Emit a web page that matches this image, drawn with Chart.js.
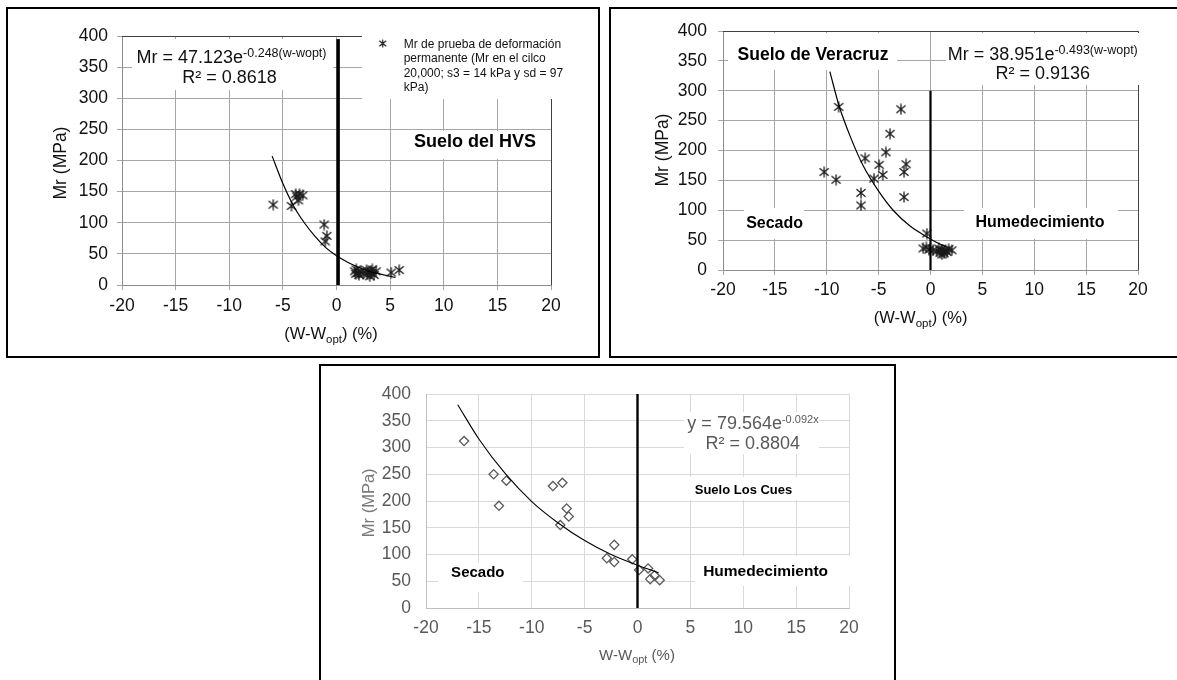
<!DOCTYPE html>
<html lang="es">
<head>
<meta charset="UTF-8">
<title>Mr vs (w-wopt)</title>
<script src="https://cdn.jsdelivr.net/npm/chart.js@4.4.1/dist/chart.umd.min.js"></script>
<style>
  html, body { margin: 0; padding: 0; background: #fff; }
  body { position: relative; width: 1177px; height: 680px; overflow: hidden; }
  .frame { position: absolute; border: 2px solid #000; box-sizing: border-box; }
  canvas { position: absolute; }
</style>
</head>
<body>
<div class="frame" style="left:6px;top:7px;width:594px;height:351px"></div>
<div class="frame" style="left:609px;top:7px;width:580px;height:351px"></div>
<div class="frame" style="left:319px;top:364px;width:577px;height:340px"></div>
<canvas id="c1"></canvas>
<canvas id="c2"></canvas>
<canvas id="c3"></canvas>
<script>
// Ejes (iguales en los tres graficos)
const xLimits = [-20, 20];
const xStep = 5;
const yLimits = [0, 400];
const yStep = 50;

// Suelo del HVS: puntos
const hvsX = [-5.9, -4.2, -3.8, -3.7, -3.55, -3.45, -3.15, -1.15, -0.9, -1.05,
  1.7, 1.8, 1.85, 2.0, 2.1, 2.3, 2.5, 2.8, 2.9, 3.0, 3.1, 3.2, 3.25, 3.35, 3.5, 3.7, 5.1, 5.85];
const hvsY = [129, 127, 146, 142, 136, 146, 144, 97, 79, 70,
  22, 18, 25, 19, 16, 22, 18, 24, 17, 21, 14, 23, 19, 25, 16, 22, 20, 24];
const hvsFitX = [-6, -5, -4, -3, -2, -1, 0, 1, 2, 3, 4, 5.5];
const hvsFitY = [207, 163, 127, 100, 78, 60, 47, 37, 29, 22, 18, 12];
const hvsZeroX = [0.15, 0.15];
const hvsZeroY = [0, 395];

// Suelo de Veracruz
const verX = [-10.25, -9.1, -8.85, -6.3, -6.7, -6.7, -5.45, -4.95, -4.6, -4.3, -3.9, -2.85, -2.55, -2.35, -2.55,
  -0.35, -0.7, -0.4, -0.15, 0.25, 0.6, 0.8, 0.95, 1.05, 1.1, 1.2, 1.3, 1.45, 1.6, 1.75, 2.05];
const verY = [164, 151, 273, 187, 129, 108, 153, 176, 159, 197, 228, 269, 164, 177, 122,
  61, 36, 38, 34, 33, 31, 36, 29, 34, 26, 31, 28, 33, 30, 35, 33];
const verFitX = [-9.7, -8.8, -7.7, -6.5, -5, -3.6, -2, -0.5, 0.6, 1.5];
const verFitY = [332, 274, 222, 175, 132, 100, 74, 57, 46, 39];
const verZeroX = [0, 0];
const verZeroY = [0, 300];

// Suelo Los Cues
const cuesX = [-16.4, -13.6, -12.4, -13.1, -8.0, -7.1, -6.7, -6.5, -7.3, -2.9, -2.2, -2.2, -0.5, 0.15, 1.0, 1.2, 1.6, 2.1];
const cuesY = [312, 250, 238, 191, 228, 234, 186, 171, 155, 93, 118, 86, 91, 71, 74, 54, 61, 52];
const cuesFitX = [-17, -15, -12.5, -10, -7.5, -5, -2.5, 0, 2];
const cuesFitY = [380, 316, 251, 199, 159, 126, 100, 80, 66];
const cuesZeroX = [0, 0];
const cuesZeroY = [0, 400];

const FONT = "'Liberation Sans', Arial, sans-serif";
const toPoints = (xs, ys) => xs.map((x, i) => ({ x: x, y: ys[i] }));

// Marcador tipo asterisco (X + linea vertical), como en Excel
function makeAsterisk(size, color, width) {
    const c = document.createElement('canvas');
    c.width = size;
    c.height = size;
    const g = c.getContext('2d');
    const m = size / 2;
    const a = size * 0.38;
    g.strokeStyle = color;
    g.lineWidth = width;
    g.beginPath();
    g.moveTo(m - a, m - a * 0.8); g.lineTo(m + a, m + a * 0.8);
    g.moveTo(m + a, m - a * 0.8); g.lineTo(m - a, m + a * 0.8);
    g.moveTo(m, 0.5); g.lineTo(m, size - 0.5);
    g.stroke();
    return c;
}
const star = makeAsterisk(12, '#1a1a1a', 1.3);
const starSmall = makeAsterisk(9, '#1a1a1a', 1.1);

function scatterSet(xs, ys, style) {
    return Object.assign({ data: toPoints(xs, ys), showLine: false, pointHoverRadius: 0 }, style);
}
function lineSet(xs, ys, color, width, smooth) {
    return {
        data: toPoints(xs, ys), showLine: true, borderColor: color, borderWidth: width,
        pointRadius: 0, pointHoverRadius: 0, fill: false,
        tension: smooth ? 0.4 : 0, cubicInterpolationMode: smooth ? 'monotone' : 'default'
    };
}

// Texto con partes de distinto tamano (superindice / subindice)
function drawRuns(ctx, runs, x, y, align, color) {
    ctx.fillStyle = color;
    ctx.textBaseline = 'alphabetic';
    ctx.textAlign = 'left';
    let total = 0;
    runs.forEach(r => {
        ctx.font = (r.bold ? 'bold ' : '') + r.size + 'px ' + FONT;
        r.w = ctx.measureText(r.t).width;
        total += r.w;
    });
    let cx = align === 'center' ? x - total / 2 : x;
    runs.forEach(r => {
        ctx.font = (r.bold ? 'bold ' : '') + r.size + 'px ' + FONT;
        ctx.fillText(r.t, cx, y + (r.dy || 0));
        cx += r.w;
    });
}

function alignPx(v) {
    return Math.round(v - 0.5) + 0.5;
}

function overlay(p) {
    return {
        id: 'overlay_' + p.id,
        beforeDatasetsDraw(chart) {
            if (!p.frameColor) return;
            const ctx = chart.ctx;
            const a = chart.chartArea;
            ctx.save();
            ctx.strokeStyle = p.frameColor;
            ctx.lineWidth = 1;
            ctx.beginPath();
            ctx.moveTo(a.left, alignPx(a.top));
            ctx.lineTo(alignPx(a.right), alignPx(a.top));
            ctx.lineTo(alignPx(a.right), a.bottom);
            ctx.stroke();
            ctx.restore();
        },
        afterDraw(chart) {
            const ctx = chart.ctx;
            ctx.save();
            ctx.translate(-p.left, -p.top);
            ctx.fillStyle = '#fff';
            p.boxes.forEach(b => ctx.fillRect(b[0], b[1], b[2] - b[0], b[3] - b[1]));
            p.texts.forEach(t => {
                if (t.type === 'vtitle') {
                    ctx.save();
                    ctx.translate(t.x, t.y);
                    ctx.rotate(-Math.PI / 2);
                    ctx.font = t.size + 'px ' + FONT;
                    ctx.fillStyle = t.color;
                    ctx.textAlign = 'center';
                    ctx.textBaseline = 'middle';
                    ctx.fillText(t.text, 0, 0);
                    ctx.restore();
                } else if (t.type === 'marker') {
                    ctx.drawImage(t.img, t.x - t.img.width / 2, t.y - t.img.height / 2);
                } else {
                    drawRuns(ctx, t.runs, t.x, t.y, t.align || 'center', t.color);
                }
            });
            ctx.restore();
        }
    };
}

function buildChart(p) {
    const canvas = document.getElementById(p.id);
    canvas.width = p.width;
    canvas.height = p.height;
    canvas.style.left = p.left + 'px';
    canvas.style.top = p.top + 'px';
    canvas.style.width = p.width + 'px';
    canvas.style.height = p.height + 'px';
    const yW = 50, xH = 30;
    const padding = {
        left: p.area.left - p.left - yW,
        right: p.left + p.width - p.area.right,
        top: p.area.top - p.top,
        bottom: p.top + p.height - p.area.bottom - xH
    };
    const tickFont = { family: FONT, size: 17.5 };
    new Chart(canvas, {
        type: 'scatter',
        data: { datasets: p.datasets },
        options: {
            responsive: false,
            animation: false,
            events: [],
            layout: { padding: padding },
            plugins: { legend: { display: false }, tooltip: { enabled: false } },
            scales: {
                x: {
                    type: 'linear', min: xLimits[0], max: xLimits[1],
                    ticks: { stepSize: xStep, color: p.tickColor, font: tickFont, padding: p.xPad },
                    grid: { color: p.gridColor, tickLength: 5, drawTicks: p.drawTicks },
                    border: { color: p.axisColor },
                    afterFit: s => { s.height = xH; }
                },
                y: {
                    type: 'linear', min: yLimits[0], max: yLimits[1],
                    ticks: { stepSize: yStep, color: p.tickColor, font: tickFont, padding: p.yPad },
                    grid: { color: p.gridColor, tickLength: 5, drawTicks: p.drawTicks },
                    border: { color: p.axisColor },
                    afterFit: s => { s.width = yW; }
                }
            }
        },
        plugins: [overlay(p)]
    });
}

const black = '#111';
const gray = '#595959';

// Grafico 1: Suelo del HVS
buildChart({
    id: 'c1', left: 8, top: 9, width: 590, height: 347,
    area: { left: 122, top: 36, right: 551, bottom: 285 },
    tickColor: black, gridColor: '#a6a6a6', axisColor: '#8c8c8c', frameColor: '#404040',
    drawTicks: true, xPad: 6, yPad: 9,
    datasets: [
        lineSet(hvsFitX, hvsFitY, '#000', 1.2, true),
        lineSet(hvsZeroX, hvsZeroY, '#000', 3.5, false),
        scatterSet(hvsX, hvsY, { pointStyle: star, pointRadius: 5 })
    ],
    boxes: [[132, 39, 333, 90], [362, 28, 596, 99], [405, 131, 545, 159]],
    texts: [
        { x: 231.5, y: 63, color: black, runs: [{ t: 'Mr = 47.123e', size: 18 }, { t: '-0.248(w-wopt)', size: 12.5, dy: -6 }] },
        { x: 229.6, y: 83, color: black, runs: [{ t: 'R² = 0.8618', size: 18 }] },
        { x: 475, y: 146.7, color: '#000', runs: [{ t: 'Suelo del HVS', size: 18, bold: true }] },
        { type: 'marker', img: starSmall, x: 382.7, y: 43.5 },
        { x: 403.7, y: 47.5, align: 'left', color: black, runs: [{ t: 'Mr de prueba de deformación', size: 12 }] },
        { x: 403.7, y: 62, align: 'left', color: black, runs: [{ t: 'permanente (Mr en el cilco', size: 12 }] },
        { x: 403.7, y: 76.5, align: 'left', color: black, runs: [{ t: '20,000; s3 = 14 kPa y sd = 97', size: 12 }] },
        { x: 403.7, y: 91, align: 'left', color: black, runs: [{ t: 'kPa)', size: 12 }] },
        { type: 'vtitle', x: 61, y: 163, text: 'Mr (MPa)', size: 17.5, color: black },
        { x: 331, y: 339, color: black, runs: [{ t: '(W-W', size: 16.5 }, { t: 'opt', size: 11.5, dy: 4 }, { t: ') (%)', size: 16.5 }] }
    ]
});

// Grafico 2: Suelo de Veracruz
buildChart({
    id: 'c2', left: 611, top: 9, width: 566, height: 347,
    area: { left: 723, top: 31, right: 1138, bottom: 270 },
    tickColor: black, gridColor: '#a6a6a6', axisColor: '#8c8c8c', frameColor: '#404040',
    drawTicks: true, xPad: 5, yPad: 11,
    datasets: [
        lineSet(verFitX, verFitY, '#000', 1.2, true),
        lineSet(verZeroX, verZeroY, '#000', 2.2, false),
        scatterSet(verX, verY, { pointStyle: star, pointRadius: 5 })
    ],
    boxes: [[728, 33, 897, 70], [946, 33, 1140, 85], [744, 208, 804, 239], [964, 208, 1118, 239]],
    texts: [
        { x: 813, y: 60, color: '#000', runs: [{ t: 'Suelo de Veracruz', size: 17.5, bold: true }] },
        { x: 1042.8, y: 59.5, color: black, runs: [{ t: 'Mr = 38.951e', size: 18 }, { t: '-0.493(w-wopt)', size: 12.5, dy: -6 }] },
        { x: 1042.8, y: 78.5, color: black, runs: [{ t: 'R² = 0.9136', size: 18 }] },
        { x: 774.6, y: 228.3, color: '#000', runs: [{ t: 'Secado', size: 16, bold: true }] },
        { x: 1040, y: 226.7, color: '#000', runs: [{ t: 'Humedecimiento', size: 16, bold: true }] },
        { type: 'vtitle', x: 663.4, y: 150, text: 'Mr (MPa)', size: 17.5, color: black },
        { x: 920.6, y: 323, color: black, runs: [{ t: '(W-W', size: 16.5 }, { t: 'opt', size: 11.5, dy: 4 }, { t: ') (%)', size: 16.5 }] }
    ]
});

// Grafico 3: Suelo Los Cues
buildChart({
    id: 'c3', left: 321, top: 366, width: 573, height: 314,
    area: { left: 426, top: 394, right: 849, bottom: 608 },
    tickColor: gray, gridColor: '#d9d9d9', axisColor: '#bfbfbf', frameColor: null,
    drawTicks: false, xPad: 9.5, yPad: 15,
    datasets: [
        lineSet(cuesFitX, cuesFitY, '#000', 1.1, true),
        lineSet(cuesZeroX, cuesZeroY, '#000', 2.4, false),
        scatterSet(cuesX, cuesY, { pointStyle: 'rectRot', pointRadius: 4.6, borderWidth: 1.3, borderColor: gray, backgroundColor: 'rgba(255,255,255,0)' })
    ],
    boxes: [[684, 412, 819, 454], [690, 477, 806, 500], [438, 563, 523, 592], [695, 556, 856, 586]],
    texts: [
        { x: 753, y: 428.7, color: gray, runs: [{ t: 'y = 79.564e', size: 18 }, { t: '-0.092x', size: 11, dy: -6 }] },
        { x: 752.7, y: 448.5, color: gray, runs: [{ t: 'R² = 0.8804', size: 18 }] },
        { x: 743.5, y: 493.7, color: '#000', runs: [{ t: 'Suelo Los Cues', size: 13, bold: true }] },
        { x: 477.8, y: 577, color: '#000', runs: [{ t: 'Secado', size: 15, bold: true }] },
        { x: 765.6, y: 576, color: '#000', runs: [{ t: 'Humedecimiento', size: 15.5, bold: true }] },
        { type: 'vtitle', x: 369.8, y: 502.8, text: 'Mr (MPa)', size: 16.5, color: '#7a7a7a' },
        { x: 637, y: 659.5, color: gray, runs: [{ t: 'W-W', size: 15 }, { t: 'opt', size: 11, dy: 3 }, { t: ' (%)', size: 15 }] }
    ]
});
</script>
</body>
</html>
